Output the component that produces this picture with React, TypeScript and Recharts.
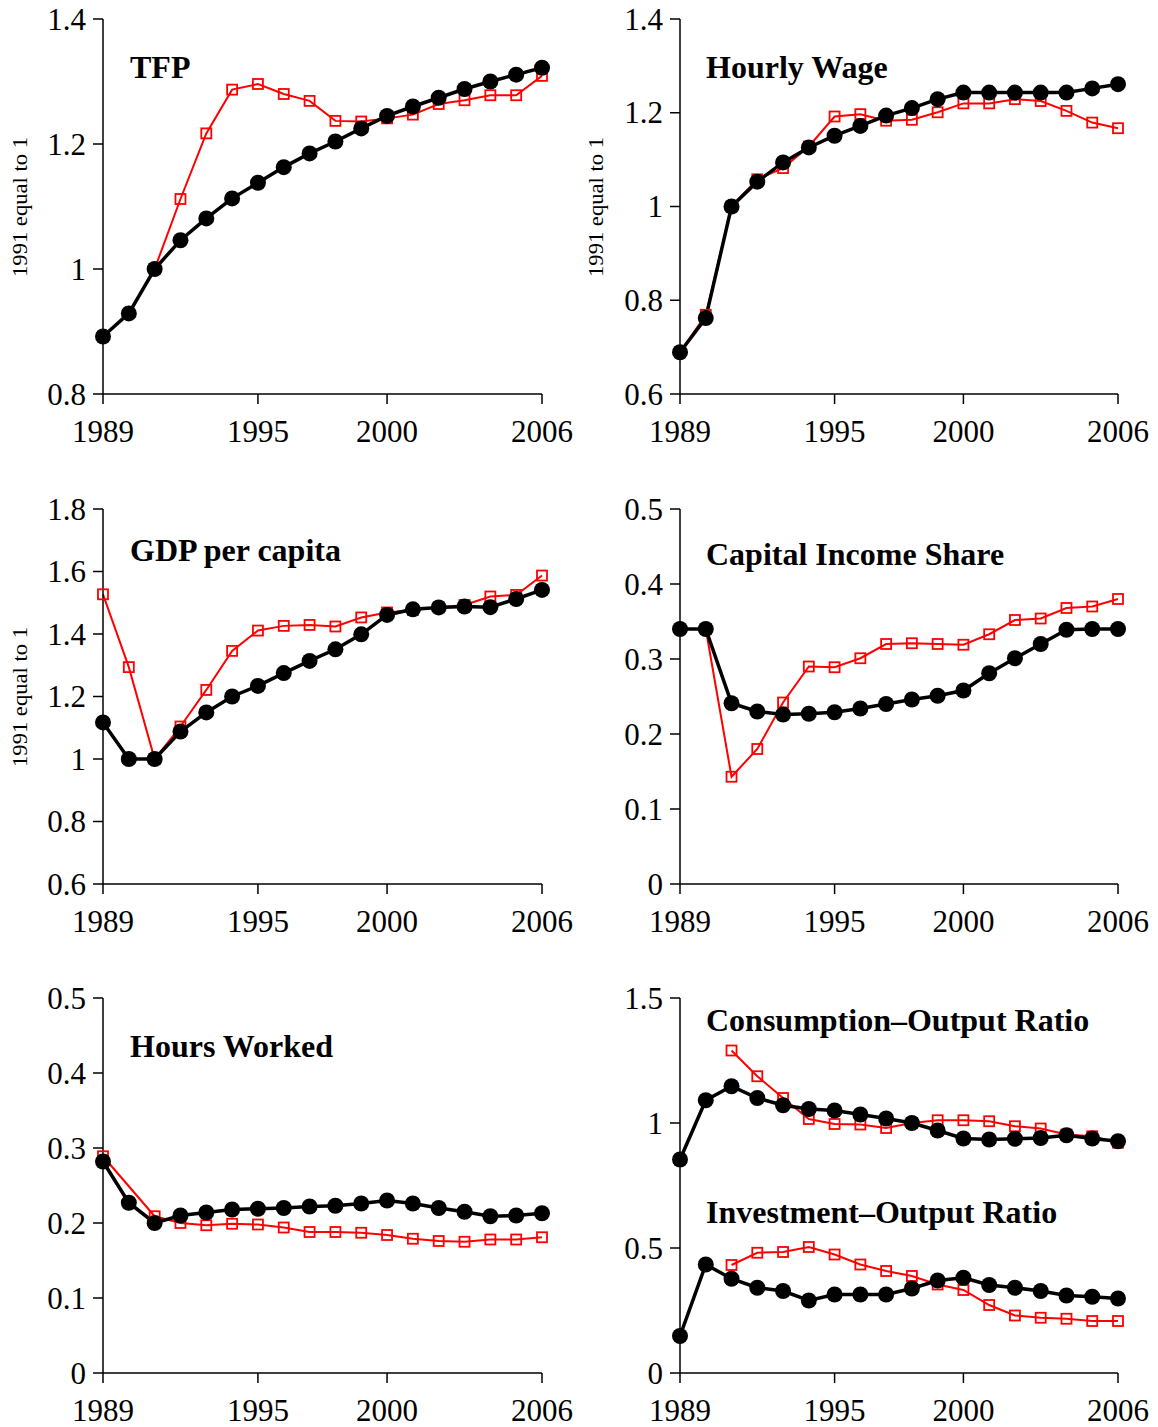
import React from 'react';
import { LineChart, Line, XAxis, YAxis } from 'recharts';

const years = [1989, 1990, 1991, 1992, 1993, 1994, 1995, 1996, 1997, 1998, 1999, 2000, 2001, 2002, 2003, 2004, 2005, 2006];
const xTicks = [1989, 1995, 2000, 2006];

const tfpBlack = [0.892, 0.929, 1.0, 1.046, 1.081, 1.113, 1.138, 1.163, 1.185, 1.204, 1.225, 1.245, 1.26, 1.274, 1.288, 1.3, 1.311, 1.322];
const tfpRed = [null, null, 1.0, 1.112, 1.217, 1.287, 1.296, 1.28, 1.269, 1.237, 1.236, 1.241, 1.247, 1.264, 1.27, 1.278, 1.278, 1.309];
const tfpTicks = [0.8, 1, 1.2, 1.4];

const wageBlack = [0.689, 0.762, 1.0, 1.053, 1.094, 1.126, 1.151, 1.172, 1.194, 1.21, 1.229, 1.243, 1.243, 1.243, 1.243, 1.243, 1.252, 1.261];
const wageRed = [0.689, 0.769, 1.0, 1.058, 1.082, 1.128, 1.192, 1.197, 1.183, 1.185, 1.201, 1.22, 1.22, 1.229, 1.225, 1.204, 1.179, 1.167];
const wageTicks = [0.6, 0.8, 1, 1.2, 1.4];

const gdpBlack = [1.117, 1.0, 1.0, 1.088, 1.149, 1.2, 1.234, 1.275, 1.314, 1.351, 1.399, 1.461, 1.479, 1.485, 1.488, 1.486, 1.512, 1.541];
const gdpRed = [1.527, 1.294, 1.0, 1.104, 1.221, 1.346, 1.411, 1.426, 1.429, 1.424, 1.453, 1.469, 1.477, 1.485, 1.493, 1.52, 1.525, 1.587];
const gdpTicks = [0.6, 0.8, 1, 1.2, 1.4, 1.6, 1.8];

const capBlack = [0.34, 0.34, 0.241, 0.23, 0.226, 0.227, 0.229, 0.234, 0.24, 0.246, 0.251, 0.258, 0.281, 0.301, 0.32, 0.339, 0.34, 0.34];
const capRed = [null, 0.34, 0.143, 0.18, 0.242, 0.29, 0.289, 0.301, 0.32, 0.321, 0.32, 0.319, 0.333, 0.352, 0.354, 0.368, 0.37, 0.38];
const capTicks = [0, 0.1, 0.2, 0.3, 0.4, 0.5];

const hoursBlack = [0.282, 0.227, 0.2, 0.21, 0.214, 0.218, 0.219, 0.22, 0.222, 0.223, 0.226, 0.23, 0.226, 0.22, 0.215, 0.209, 0.21, 0.213];
const hoursRed = [0.289, null, 0.209, 0.2, 0.197, 0.199, 0.198, 0.194, 0.188, 0.188, 0.187, 0.184, 0.179, 0.176, 0.175, 0.178, 0.178, 0.181];
const hoursTicks = [0, 0.1, 0.2, 0.3, 0.4, 0.5];

const consBlack = [0.854, 1.091, 1.147, 1.1, 1.071, 1.056, 1.05, 1.034, 1.018, 1.0, 0.97, 0.938, 0.934, 0.937, 0.94, 0.951, 0.938, 0.927];
const consRed = [null, null, 1.29, 1.187, 1.1, 1.016, 0.996, 0.994, 0.98, 1.0, 1.011, 1.011, 1.007, 0.987, 0.978, 0.954, 0.947, 0.921];
const invBlack = [0.148, 0.434, 0.377, 0.341, 0.328, 0.29, 0.314, 0.314, 0.314, 0.338, 0.37, 0.381, 0.352, 0.341, 0.328, 0.31, 0.305, 0.298];
const invRed = [null, null, 0.432, 0.481, 0.484, 0.504, 0.474, 0.434, 0.408, 0.388, 0.354, 0.332, 0.272, 0.23, 0.221, 0.217, 0.208, 0.208];
const ratioTicks = [0, 0.5, 1, 1.5];

const FONT = '"Liberation Serif", "Times New Roman", serif';
const RED = '#ff0000';
const TICK_FONT = 31;

type Row = { year: number; b1?: number | null; r1?: number | null; b2?: number | null; r2?: number | null };

const buildRows = (b1: (number | null)[], r1: (number | null)[], b2?: (number | null)[], r2?: (number | null)[]): Row[] =>
  years.map((year, i) => ({
    year,
    b1: b1[i],
    r1: r1[i],
    b2: b2 ? b2[i] : null,
    r2: r2 ? r2[i] : null,
  }));

const renderSquare = (props: any) => {
  const { cx, cy, value, index } = props;
  if (cx == null || cy == null || value == null || (Array.isArray(value) && value[1] == null)) {
    return <g key={`sq-${index}`} />;
  }
  return (
    <rect key={`sq-${index}`} x={cx - 5} y={cy - 5} width={10} height={10} fill="none" stroke={RED} strokeWidth={1.8} />
  );
};

const XTick = (props: any) => {
  const { x, y, payload } = props;
  return (
    <text x={x} y={y} dy={38} textAnchor="middle" fontFamily={FONT} fontSize={TICK_FONT} fill="#000">
      {payload.value}
    </text>
  );
};

const YTick = (props: any) => {
  const { x, y, payload } = props;
  return (
    <text x={x} y={y} dy={10.5} textAnchor="end" fontFamily={FONT} fontSize={TICK_FONT} fill="#000">
      {String(payload.value)}
    </text>
  );
};

type PanelProps = {
  left: number;
  top: number;
  yWidth: number;
  marginRight: number;
  ticks: number[];
  rows: Row[];
  pair2?: boolean;
};

const blackDot = { r: 8, fill: '#000', stroke: '#000', strokeWidth: 0 };

const Panel = ({ left, top, yWidth, marginRight, ticks, rows, pair2 }: PanelProps) => (
  <div style={{ position: 'absolute', left, top }}>
    <LineChart width={579} height={460} data={rows} margin={{ top: 19, right: marginRight, bottom: 6, left: 0 }}>
      <XAxis
        dataKey="year"
        type="number"
        domain={[1989, 2006]}
        ticks={xTicks}
        interval={0}
        height={60}
        tickSize={10}
        tickMargin={0}
        axisLine={{ stroke: '#000', strokeWidth: 1.5 }}
        tickLine={{ stroke: '#000', strokeWidth: 1.5 }}
        tick={<XTick />}
      />
      <YAxis
        type="number"
        domain={[ticks[0], ticks[ticks.length - 1]]}
        ticks={ticks}
        interval={0}
        width={yWidth}
        tickSize={10}
        tickMargin={7}
        axisLine={{ stroke: '#000', strokeWidth: 1.5 }}
        tickLine={{ stroke: '#000', strokeWidth: 1.5 }}
        tick={<YTick />}
      />
      <Line dataKey="r1" stroke={RED} strokeWidth={2} dot={renderSquare} activeDot={false} connectNulls isAnimationActive={false} />
      {pair2 && (
        <Line dataKey="r2" stroke={RED} strokeWidth={2} dot={renderSquare} activeDot={false} connectNulls isAnimationActive={false} />
      )}
      <Line dataKey="b1" stroke="#000" strokeWidth={3.5} dot={blackDot} activeDot={false} isAnimationActive={false} />
      {pair2 && (
        <Line dataKey="b2" stroke="#000" strokeWidth={3.5} dot={blackDot} activeDot={false} isAnimationActive={false} />
      )}
    </LineChart>
  </div>
);

const titles = [
  { text: 'TFP', x: 130, y: 78 },
  { text: 'Hourly Wage', x: 706, y: 78 },
  { text: 'GDP per capita', x: 130, y: 561 },
  { text: 'Capital Income Share', x: 706, y: 565 },
  { text: 'Hours Worked', x: 130, y: 1057 },
  { text: 'Consumption\u2013Output Ratio', x: 706, y: 1031 },
  { text: 'Investment\u2013Output Ratio', x: 706, y: 1223 },
];

const yLabels = [
  { x: 27, y: 207 },
  { x: 603, y: 207 },
  { x: 27, y: 697 },
];

export default function App() {
  return (
    <div style={{ position: 'absolute', left: 0, top: 0, width: 1158, height: 1427, overflow: 'hidden', background: '#fff' }}>
      <Panel left={0} top={0} yWidth={103} marginRight={37} ticks={tfpTicks} rows={buildRows(tfpBlack, tfpRed)} />
      <Panel left={579} top={0} yWidth={101} marginRight={40} ticks={wageTicks} rows={buildRows(wageBlack, wageRed)} />
      <Panel left={0} top={490} yWidth={103} marginRight={37} ticks={gdpTicks} rows={buildRows(gdpBlack, gdpRed)} />
      <Panel left={579} top={490} yWidth={101} marginRight={40} ticks={capTicks} rows={buildRows(capBlack, capRed)} />
      <Panel left={0} top={979} yWidth={103} marginRight={37} ticks={hoursTicks} rows={buildRows(hoursBlack, hoursRed)} />
      <Panel
        left={579}
        top={979}
        yWidth={101}
        marginRight={40}
        ticks={ratioTicks}
        rows={buildRows(consBlack, consRed, invBlack, invRed)}
        pair2
      />
      <svg width={1158} height={1427} style={{ position: 'absolute', left: 0, top: 0, pointerEvents: 'none' }}>
        {titles.map((t) => (
          <text key={t.text} x={t.x} y={t.y} fontFamily={FONT} fontWeight="bold" fontSize={32} fill="#000">
            {t.text}
          </text>
        ))}
        {yLabels.map((l, i) => (
          <text
            key={i}
            x={0}
            y={0}
            transform={`translate(${l.x},${l.y}) rotate(-90) scale(1.13,1)`}
            textAnchor="middle"
            fontFamily={FONT}
            fontSize={20}
            fill="#000"
          >
            1991 equal to 1
          </text>
        ))}
      </svg>
    </div>
  );
}
